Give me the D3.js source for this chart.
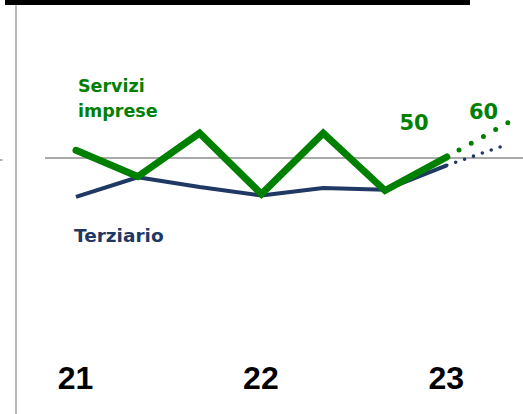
<!DOCTYPE html>
<html>
<head>
<meta charset="utf-8">
<script src="https://cdn.jsdelivr.net/npm/d3@7"></script>
<style>
  body { margin: 0; background: #fff; }
  svg { display: block; }
</style>
</head>
<body>
<svg id="chart" width="523" height="414"></svg>
<script>

// ##################################################
// #  Data                                          #
// ##################################################

// periods (every 4 months), last one is the forecast point
const periods = ['gen-21', 'mag-21', 'set-21', 'gen-22', 'mag-22', 'set-22', 'gen-23', 'mag-23'];
const tickPeriods = ['gen-21', 'gen-22', 'gen-23'];
const tickLabels = ['21', '22', '23'];

const serviziImprese = [52.2, 44.7, 57.1, 39.7, 57.1, 40.7, 50.3];
const serviziForecast = [50.3, 60.2];
const terziario = [38.9, 44.5, 41.7, 39.3, 41.4, 40.9, 47.9];
const terziarioForecast = [47.9, 54.0];

const reference = 50;

// ##################################################
// #  Chart                                         #
// ##################################################

const svg = d3.select('#chart');

const green = '#008000';
const navy = '#1f3864';

const x = d3.scalePoint()
    .domain(periods)
    .range([76, 508.6]);

const y = d3.scaleLinear()
    .domain([20, 80])
    .range([263, 53]);

const line = d3.line()
    .x(d => x(d.p))
    .y(d => y(d.v));

function points(values, start) {
    return values.map((v, i) => ({ p: periods[start + i], v }));
}

// top black band
svg.append('rect')
    .attr('x', 5)
    .attr('y', 0)
    .attr('width', 465)
    .attr('height', 5)
    .attr('fill', '#000');

// left vertical axis
svg.append('line')
    .attr('x1', 16).attr('x2', 16)
    .attr('y1', 5).attr('y2', 414)
    .attr('stroke', '#b8b8b8')
    .attr('stroke-width', 2);

// small marker at the left edge
svg.append('line')
    .attr('x1', 0).attr('x2', 2.5)
    .attr('y1', y(reference) + 2).attr('y2', y(reference) + 2)
    .attr('stroke', '#999')
    .attr('stroke-width', 1.5);

// reference line at 50
svg.append('line')
    .attr('x1', 45).attr('x2', 523)
    .attr('y1', y(reference)).attr('y2', y(reference))
    .attr('stroke', '#8c8c8c')
    .attr('stroke-width', 1.6);

// Terziario
svg.append('path')
    .datum(points(terziario, 0))
    .attr('d', line)
    .attr('fill', 'none')
    .attr('stroke', navy)
    .attr('stroke-width', 4)
    .attr('stroke-linejoin', 'round');

svg.append('path')
    .datum(points(terziarioForecast, 6))
    .attr('d', line)
    .attr('fill', 'none')
    .attr('stroke', navy)
    .attr('stroke-width', 3.6)
    .attr('stroke-linecap', 'round')
    .attr('stroke-dasharray', '0 9.4');

// Servizi imprese
svg.append('path')
    .datum(points(serviziImprese, 0))
    .attr('d', line)
    .attr('fill', 'none')
    .attr('stroke', green)
    .attr('stroke-width', 7)
    .attr('stroke-linejoin', 'miter')
    .attr('stroke-linecap', 'round');

svg.append('path')
    .datum(points(serviziForecast, 6))
    .attr('d', line)
    .attr('fill', 'none')
    .attr('stroke', green)
    .attr('stroke-width', 5)
    .attr('stroke-linecap', 'round')
    .attr('stroke-dasharray', '0 14');

// x axis labels
const axis = d3.axisBottom(x)
    .tickValues(tickPeriods)
    .tickFormat(d => tickLabels[tickPeriods.indexOf(d)])
    .tickSize(0);

const axisGroup = svg.append('g')
    .attr('transform', 'translate(-1,363)')
    .call(axis);
axisGroup.select('.domain').remove();
axisGroup.selectAll('text')
    .attr('font-family', '"Liberation Sans", Arial, sans-serif')
    .attr('font-weight', 'bold')
    .attr('font-size', 32)
    .attr('fill', '#000');

// series labels
const labelFont = '"DejaVu Sans", sans-serif';

const servText = svg.append('text')
    .attr('x', 78)
    .attr('y', 92)
    .attr('font-family', labelFont)
    .attr('font-weight', 'bold')
    .attr('font-size', 17.5)
    .attr('fill', green);
servText.append('tspan').attr('x', 78).text('Servizi');
servText.append('tspan').attr('x', 78).attr('dy', 25).text('imprese');

svg.append('text')
    .attr('x', 74)
    .attr('y', 242)
    .attr('font-family', labelFont)
    .attr('font-weight', 'bold')
    .attr('font-size', 18.5)
    .attr('fill', navy)
    .text('Terziario');

// value annotations
svg.append('text')
    .attr('x', 414)
    .attr('y', 129.5)
    .attr('text-anchor', 'middle')
    .attr('font-family', labelFont)
    .attr('font-weight', 'bold')
    .attr('font-size', 21)
    .attr('fill', green)
    .text(reference);

svg.append('text')
    .attr('x', 483.5)
    .attr('y', 118.5)
    .attr('text-anchor', 'middle')
    .attr('font-family', labelFont)
    .attr('font-weight', 'bold')
    .attr('font-size', 21)
    .attr('fill', green)
    .text(Math.round(serviziForecast[1]));

</script>
</body>
</html>
